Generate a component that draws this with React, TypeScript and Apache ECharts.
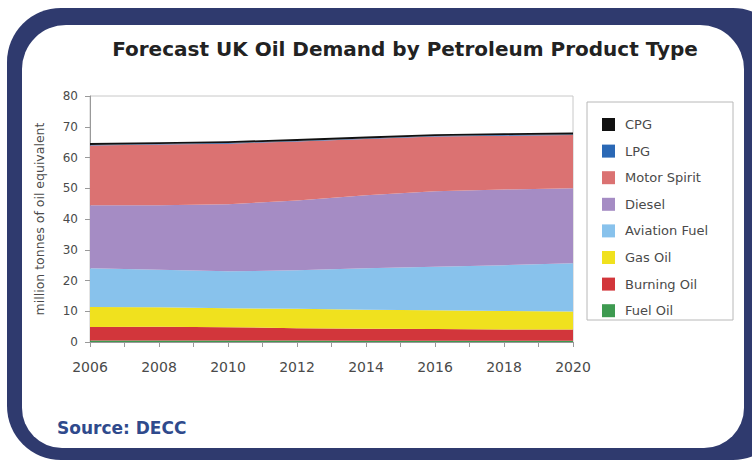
import React, { useEffect, useRef } from "react";
import * as echarts from "echarts";

const years = ["2006", "2008", "2010", "2012", "2014", "2016", "2018", "2020"];
const fuelOil = [0.5, 0.5, 0.5, 0.5, 0.4, 0.4, 0.4, 0.4];
const burningOil = [4.4, 4.5, 4.3, 4.0, 3.9, 3.8, 3.7, 3.7];
const gasOil = [6.5, 6.3, 6.2, 6.3, 6.2, 6.1, 6.0, 5.8];
const aviationFuel = [12.6, 12.2, 12.0, 12.5, 13.5, 14.2, 14.9, 15.7];
const diesel = [20.5, 21.0, 21.8, 22.7, 23.7, 24.5, 24.6, 24.4];
const motorSpirit = [19.4, 19.7, 19.7, 19.2, 18.3, 17.8, 17.5, 17.3];
const lpg = [0.2, 0.2, 0.2, 0.2, 0.2, 0.2, 0.2, 0.2];
const cpg = [0.6, 0.6, 0.6, 0.6, 0.6, 0.6, 0.6, 0.6];
const yTicks = [0, 10, 20, 30, 40, 50, 60, 70, 80];

const seriesDefs = [
  { name: "Fuel Oil", data: fuelOil, color: "#3d9a50" },
  { name: "Burning Oil", data: burningOil, color: "#d2363b" },
  { name: "Gas Oil", data: gasOil, color: "#f0e11e" },
  { name: "Aviation Fuel", data: aviationFuel, color: "#88c2ec" },
  { name: "Diesel", data: diesel, color: "#a58cc4" },
  { name: "Motor Spirit", data: motorSpirit, color: "#db7272" },
  { name: "LPG", data: lpg, color: "#2a68b5" },
  { name: "CPG", data: cpg, color: "#111111" },
];

const NAVY = "#2f3a6e";
const FONT = "DejaVu Sans, Verdana, sans-serif";

export default function App() {
  const ref = useRef<HTMLDivElement>(null);
  useEffect(() => {
    if (!ref.current) return;
    const chart = echarts.init(ref.current, null, { renderer: "svg" });
    chart.setOption({
      animation: false,
      backgroundColor: "#ffffff",
      graphic: [
        {
          type: "rect",
          z: -10,
          silent: true,
          shape: { x: 7, y: 8, width: 780, height: 452, r: 54 },
          style: { fill: NAVY },
        },
        {
          type: "rect",
          z: -9,
          silent: true,
          shape: { x: 22, y: 25, width: 722, height: 423, r: [44, 44, 40, 40] },
          style: { fill: "#ffffff" },
        },
        {
          type: "rect",
          z: -8,
          silent: true,
          shape: { x: 587, y: 102, width: 146, height: 218 },
          style: { fill: "#ffffff", stroke: "#b8b8b8", lineWidth: 1 },
        },
        {
          type: "text",
          x: 405,
          y: 49,
          style: {
            text: "Forecast UK Oil Demand by Petroleum Product Type",
            fontFamily: FONT,
            fontWeight: "bold",
            fontSize: 20,
            fill: "#222222",
            align: "center",
            verticalAlign: "middle",
          },
        },
        {
          type: "text",
          x: 57,
          y: 428,
          style: {
            text: "Source: DECC",
            fontFamily: FONT,
            fontWeight: "bold",
            fontSize: 17,
            fill: "#2f4a8c",
            align: "left",
            verticalAlign: "middle",
          },
        },
      ],
      legend: {
        orient: "vertical",
        left: 597,
        top: 113,
        icon: "rect",
        itemWidth: 13,
        itemHeight: 13,
        itemGap: 13.6,
        data: ["CPG", "LPG", "Motor Spirit", "Diesel", "Aviation Fuel", "Gas Oil", "Burning Oil", "Fuel Oil"],
        textStyle: {
          fontFamily: FONT,
          fontSize: 13,
          color: "#4a4a4a",
          padding: [0, 0, 0, 5],
        },
        selectedMode: false,
      },
      grid: {
        left: 90,
        right: 179,
        top: 96,
        bottom: 119,
        show: true,
        borderColor: "#c8c8c8",
        borderWidth: 1,
      },
      xAxis: [
        {
          type: "category",
          data: years,
          boundaryGap: false,
          position: "bottom",
          axisLine: { show: true, lineStyle: { color: "#999999" } },
          axisTick: { show: false },
          axisLabel: { show: false },
          splitLine: { show: false },
        },
        {
          type: "value",
          min: 2006,
          max: 2020,
          interval: 2,
          position: "bottom",
          axisLine: { show: false },
          axisTick: { show: true, length: 5, lineStyle: { color: "#999999" } },
          minorTick: { show: true, splitNumber: 2, length: 5, lineStyle: { color: "#999999" } },
          splitLine: { show: false },
          minorSplitLine: { show: false },
          axisLabel: {
            margin: 18,
            fontFamily: FONT,
            fontSize: 14,
            color: "#4a4a4a",
            formatter: (v: number) => String(v),
          },
        },
      ],
      yAxis: {
        type: "value",
        min: 0,
        max: 80,
        interval: 10,
        name: "million tonnes of oil equivalent",
        nameLocation: "middle",
        nameGap: 44,
        nameTextStyle: {
          fontFamily: FONT,
          fontSize: 12.5,
          color: "#4a4a4a",
        },
        axisLine: { show: true, lineStyle: { color: "#999999" } },
        axisTick: { show: true, length: 5, lineStyle: { color: "#999999" } },
        splitLine: { show: false },
        axisLabel: {
          margin: 12,
          fontFamily: FONT,
          fontSize: 12,
          color: "#4a4a4a",
          formatter: (v: number) => (yTicks.includes(v) ? String(v) : ""),
        },
      },
      series: seriesDefs.map((s) => ({
        name: s.name,
        type: "line",
        xAxisIndex: 0,
        stack: "total",
        symbol: "none",
        lineStyle: { width: 0 },
        itemStyle: { color: s.color },
        areaStyle: { color: s.color, opacity: 1 },
        data: s.data,
      })),
    });
    return () => chart.dispose();
  }, []);
  return (
    <div
      ref={ref}
      style={{ position: "fixed", left: 0, top: 0, width: 752, height: 461 }}
    />
  );
}
